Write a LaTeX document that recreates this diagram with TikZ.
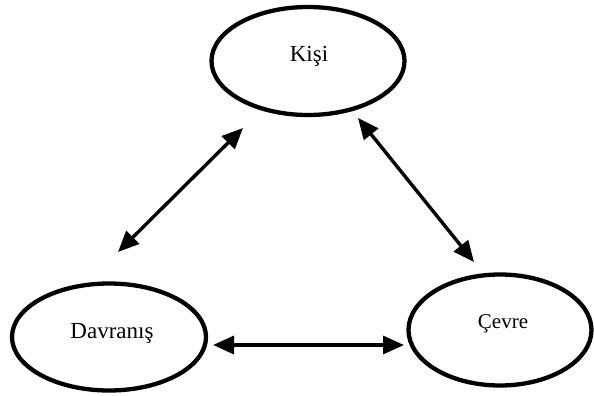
\documentclass[tikz,border=0pt]{standalone}
\usepackage{fontspec}
\setmainfont{Liberation Serif}
\usetikzlibrary{arrows.meta,shapes.geometric}
\begin{document}
\begin{tikzpicture}[x=1pt,y=1pt,
  ell/.style={draw=black,line width=4.3pt,ellipse,inner sep=0pt},
  lbl/.style={anchor=base,inner sep=0pt},
  arr/.style={line width=3.4pt,{Triangle[length=21pt,width=18pt]}-{Triangle[length=21pt,width=18pt]}}]
\useasboundingbox (0,0) rectangle (594,-396);
\node[ell,minimum width=193pt,minimum height=108pt] (k) at (308,-61) {};
\node[ell,minimum width=194pt,minimum height=107pt] (d) at (109,-337) {};
\node[ell,minimum width=183pt,minimum height=111pt] (c) at (500,-330) {};
\node[lbl,font=\fontsize{23}{26}\selectfont] (kt) at (309,-62) {Kişi};
\node[lbl,font=\fontsize{23}{26}\selectfont] (dt) at (112,-338) {Davranış};
\node[lbl,font=\fontsize{21}{24}\selectfont] (ct) at (503,-328) {Çevre};
\coordinate (kd1) at (243,-128);
\coordinate (kd2) at (118,-252);
\coordinate (kc1) at (358,-118);
\coordinate (kc2) at (474,-262);
\coordinate (dc1) at (213,-345);
\coordinate (dc2) at (404,-345);
\draw[arr] (kd1) -- (kd2);
\draw[arr] (kc1) -- (kc2);
\draw[arr] (dc1) -- (dc2);
\end{tikzpicture}
\end{document}
